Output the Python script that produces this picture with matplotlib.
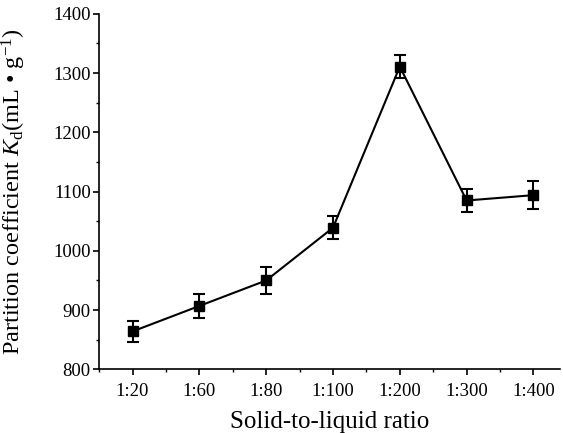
import matplotlib
matplotlib.use("Agg")
import matplotlib.pyplot as plt
from matplotlib.ticker import MultipleLocator

plt.rcParams['font.family'] = ['Liberation Serif', 'DejaVu Serif']
plt.rcParams['mathtext.fontset'] = 'custom'
plt.rcParams['mathtext.rm'] = 'Liberation Serif'
plt.rcParams['mathtext.it'] = 'Liberation Serif:italic'

categories = ['1:20', '1:60', '1:80', '1:100', '1:200', '1:300', '1:400']
kd_values = [864, 907, 950, 1039, 1311, 1085, 1094]
kd_errors = [18, 20, 22, 19, 19, 20, 24]

fig = plt.figure(figsize=(5.63, 4.33), dpi=100)
ax = fig.add_axes([0.176, 0.147, 0.819, 0.821])
x = list(range(1, len(categories) + 1))
ax.errorbar(x, kd_values, yerr=kd_errors, color='black', lw=1.5, marker='s',
            markersize=6.5, capsize=4, elinewidth=1.5, capthick=1.5)

ax.set_xlim(0.5, 7.4)
ax.set_ylim(800, 1400)
ax.set_xticks(x)
ax.set_xticklabels(categories)
ax.xaxis.set_minor_locator(MultipleLocator(0.5))
ax.yaxis.set_major_locator(MultipleLocator(100))
ax.yaxis.set_minor_locator(MultipleLocator(50))
for s in ['top', 'right']:
    ax.spines[s].set_visible(False)
for s in ['left', 'bottom']:
    ax.spines[s].set_linewidth(1.2)
ax.tick_params(which='major', direction='out', length=4, width=1.2, labelsize=13.5)
ax.tick_params(which='minor', direction='out', length=2.5, width=1.0)
ax.tick_params(axis='x', which='major', pad=6)
ax.tick_params(axis='y', which='major', pad=2)

ax.set_xlabel('Solid-to-liquid ratio', fontsize=18, labelpad=8)
ax.set_ylabel('Partition coefficient $K_\\mathrm{d}$(mL • g$^{\\mathrm{-1}}$)', fontsize=17.5, labelpad=18)

fig.savefig('out.png', dpi=100)
